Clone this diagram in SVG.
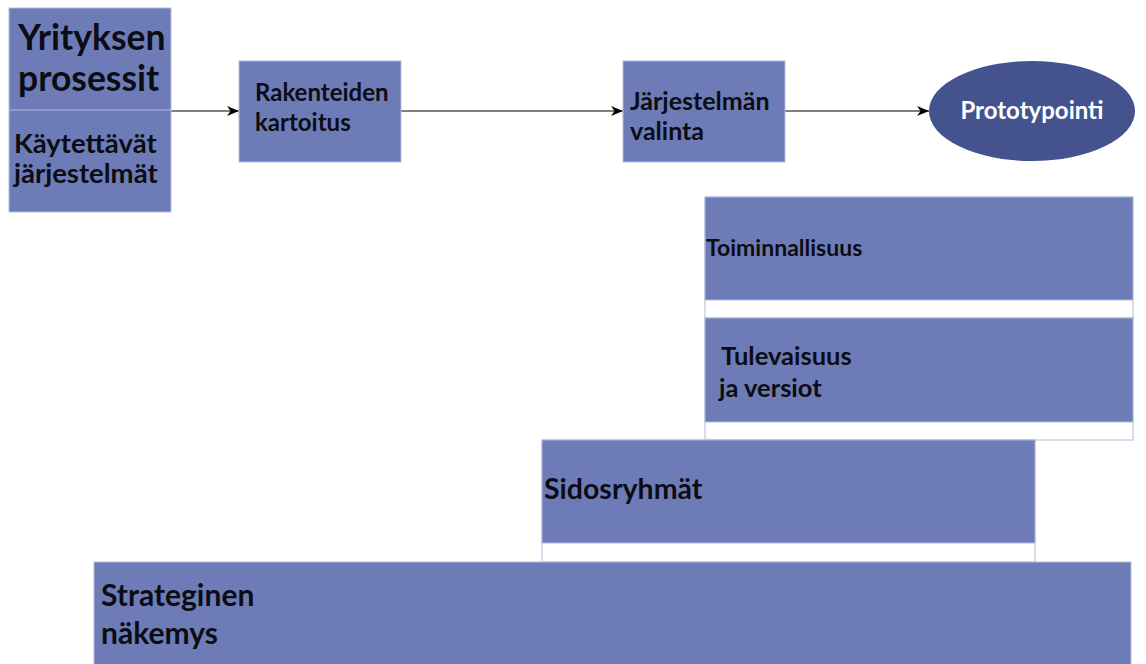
<svg xmlns="http://www.w3.org/2000/svg" width="1146" height="664" viewBox="0 0 1146 664">
  <style>
    .box { fill: #6d7cb6; stroke: #b4bbdc; stroke-width: 1; }
    .strip { fill: #ffffff; stroke: #b4bbdc; stroke-width: 1; }
    .t { font-family: Lato, "Open Sans", "Liberation Sans", sans-serif; font-weight: bold; fill: #0c0c14; }
    .w { fill: #ffffff; }
    .conn { stroke: #000000; stroke-width: 1.2; fill: none; marker-end: url(#arrow); }
  </style>
  <defs>
    <marker id="arrow" viewBox="0 0 12 10" refX="12" refY="5" markerWidth="12" markerHeight="10" markerUnits="userSpaceOnUse" orient="auto">
      <path d="M0,0 L12,5 L0,10 L3.5,5 Z" fill="#000000"/>
    </marker>
  </defs>
  <rect width="1146" height="664" fill="#ffffff"/>

  <!-- connectors -->
  <g id="connectors">
    <line class="conn" x1="171" y1="111" x2="239" y2="111"/>
    <line class="conn" x1="401" y1="111" x2="623" y2="111"/>
    <line class="conn" x1="785" y1="111" x2="929" y2="111"/>
  </g>

  <!-- company processes / systems in use -->
  <g id="yrityksen-prosessit">
    <rect class="box" x="9" y="8" width="162" height="204"/>
    <line x1="9" y1="110" x2="171" y2="110" stroke="#b4bbdc" stroke-width="1"/>
    <text class="t" font-size="35.5" x="18" y="50">Yrityksen</text>
    <text class="t" font-size="35.5" x="18" y="91">prosessit</text>
    <text class="t" font-size="27.5" x="14" y="153">Käytettävät</text>
    <text class="t" font-size="27.5" x="14" y="183">järjestelmät</text>
  </g>

  <g id="rakenteiden-kartoitus">
    <rect class="box" x="239" y="61" width="162" height="101"/>
    <text class="t" font-size="24" x="255" y="101">Rakenteiden</text>
    <text class="t" font-size="24" x="255" y="131">kartoitus</text>
  </g>

  <g id="jarjestelman-valinta">
    <rect class="box" x="623" y="61" width="162" height="101"/>
    <text class="t" font-size="25" x="630" y="110">Järjestelmän</text>
    <text class="t" font-size="25" x="630" y="140">valinta</text>
  </g>

  <g id="prototypointi">
    <ellipse cx="1032" cy="111" rx="103" ry="50" fill="#44538e"/>
    <text class="t w" font-size="24" x="1032" y="119" text-anchor="middle">Prototypointi</text>
  </g>

  <!-- stacked layers -->
  <g id="toiminnallisuus">
    <rect class="strip" x="705" y="197" width="428" height="121"/>
    <rect class="box" x="705" y="197" width="428" height="103"/>
    <text class="t" font-size="23" x="706" y="256">Toiminnallisuus</text>
  </g>

  <g id="tulevaisuus">
    <rect class="strip" x="705" y="318" width="428" height="122"/>
    <rect class="box" x="705" y="318" width="428" height="104"/>
    <text class="t" font-size="25.5" x="721" y="365">Tulevaisuus</text>
    <text class="t" font-size="25.5" x="719" y="397">ja versiot</text>
  </g>

  <g id="sidosryhmat">
    <rect class="strip" x="542" y="440" width="493" height="122"/>
    <rect class="box" x="542" y="440" width="493" height="103"/>
    <text class="t" font-size="28.5" x="544" y="499">Sidosryhmät</text>
  </g>

  <g id="strateginen-nakemys">
    <rect class="box" x="94" y="562" width="1037" height="110"/>
    <text class="t" font-size="30" x="101" y="606">Strateginen</text>
    <text class="t" font-size="30" x="101" y="644">näkemys</text>
  </g>
</svg>
